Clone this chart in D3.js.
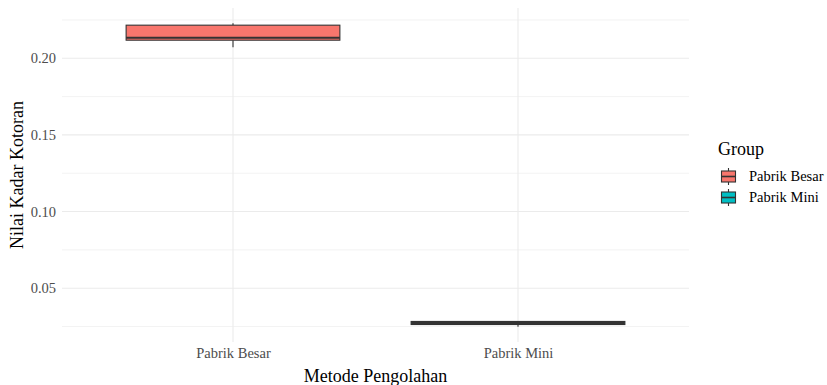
<!DOCTYPE html>
<html>
<head>
<meta charset="utf-8">
<script src="https://cdn.jsdelivr.net/npm/d3@7"></script>
<style>
  body { margin: 0; background: #fff; }
  svg text { font-family: "Liberation Serif", "DejaVu Serif", serif; }
</style>
</head>
<body>
<svg id="chart" width="827" height="385"></svg>
<script>
// Box summary per processing method
const categories = ["Pabrik Besar", "Pabrik Mini"];
const whiskerLow  = [0.2072, 0.0248];
const quartile1   = [0.2118, 0.0263];
const medians     = [0.2134, 0.0272];
const quartile3   = [0.2216, 0.0283];
const whiskerHigh = [0.2229, 0.0284];
const colors = ["#F8766D", "#00BFC4"];
const yTicks = [0.05, 0.10, 0.15, 0.20];
const yMinor = [0.025, 0.075, 0.125, 0.175, 0.225];

const FONT = "'Liberation Serif', 'DejaVu Serif', serif";
const svg = d3.select("#chart");
const margin = { left: 62, right: 138, top: 8, bottom: 43 };
const W = 827, H = 385;

// ggplot-style discrete expansion: 0.6 units on each side
const step = (W - margin.right - margin.left) / (categories.length - 1 + 1.2);
const x = d3.scalePoint().domain(categories)
  .range([margin.left + 0.6 * step, W - margin.right - 0.6 * step]);

const lo = d3.min(whiskerLow), hi = d3.max(whiskerHigh);
const pad = (hi - lo) * 0.05;
const y = d3.scaleLinear().domain([lo - pad, hi + pad]).range([H - margin.bottom, margin.top]);

const grid = svg.append("g");
yMinor.forEach(v => grid.append("line")
  .attr("x1", margin.left).attr("x2", W - margin.right)
  .attr("y1", y(v)).attr("y2", y(v))
  .attr("stroke", "#ebebeb").attr("stroke-width", 0.6));
yTicks.forEach(v => grid.append("line")
  .attr("x1", margin.left).attr("x2", W - margin.right)
  .attr("y1", y(v)).attr("y2", y(v))
  .attr("stroke", "#ebebeb").attr("stroke-width", 1.1));
categories.forEach(c => grid.append("line")
  .attr("x1", x(c)).attr("x2", x(c))
  .attr("y1", margin.top).attr("y2", H - margin.bottom)
  .attr("stroke", "#ebebeb").attr("stroke-width", 1.1));

// y axis tick labels
const yAxis = svg.append("g").attr("transform", `translate(${margin.left},0)`)
  .call(d3.axisLeft(y).tickValues(yTicks).tickFormat(d3.format(".2f")).tickSize(0).tickPadding(6));
yAxis.attr("font-family", FONT);
yAxis.select(".domain").remove();
yAxis.selectAll("text").attr("font-size", 14.5).attr("fill", "#4d4d4d");

// x axis tick labels
const xAxis = svg.append("g").attr("transform", `translate(0,${H - margin.bottom})`)
  .call(d3.axisBottom(x).tickSize(0).tickPadding(6));
xAxis.attr("font-family", FONT);
xAxis.select(".domain").remove();
xAxis.selectAll("text").attr("font-size", 14.5).attr("fill", "#4d4d4d");

// boxes
const boxW = step * 0.75;
categories.forEach((c, i) => {
  const g = svg.append("g");
  const cx = x(c);
  g.append("line").attr("x1", cx).attr("x2", cx)
    .attr("y1", y(whiskerHigh[i])).attr("y2", y(quartile3[i]))
    .attr("stroke", "#333").attr("stroke-width", 1.1);
  g.append("line").attr("x1", cx).attr("x2", cx)
    .attr("y1", y(quartile1[i])).attr("y2", y(whiskerLow[i]))
    .attr("stroke", "#333").attr("stroke-width", 1.1);
  g.append("rect").attr("x", cx - boxW / 2).attr("width", boxW)
    .attr("y", y(quartile3[i])).attr("height", y(quartile1[i]) - y(quartile3[i]))
    .attr("fill", colors[i]).attr("stroke", "#333").attr("stroke-width", 1.1);
  g.append("line").attr("x1", cx - boxW / 2).attr("x2", cx + boxW / 2)
    .attr("y1", y(medians[i])).attr("y2", y(medians[i]))
    .attr("stroke", "#333").attr("stroke-width", 2.2);
});

// axis titles
svg.append("text").attr("x", (margin.left + W - margin.right) / 2).attr("y", H - 3)
  .attr("text-anchor", "middle").attr("font-size", 18).attr("fill", "#000")
  .attr("font-family", FONT)
  .text("Metode Pengolahan");
svg.append("text")
  .attr("transform", `translate(23,${(margin.top + H - margin.bottom) / 2}) rotate(-90)`)
  .attr("text-anchor", "middle").attr("font-size", 18).attr("fill", "#000")
  .attr("font-family", FONT)
  .text("Nilai Kadar Kotoran");

// legend
const lg = svg.append("g").attr("transform", "translate(718,0)").attr("font-family", FONT);
lg.append("text").attr("x", 0).attr("y", 155).attr("font-size", 18).attr("fill", "#000").text("Group");
categories.forEach((c, i) => {
  const ky = 168 + i * 21;
  const k = lg.append("g").attr("transform", `translate(2,${ky})`);
  k.append("line").attr("x1", 8.5).attr("x2", 8.5).attr("y1", 0).attr("y2", 17)
    .attr("stroke", "#333").attr("stroke-width", 1.1);
  k.append("rect").attr("x", 1.5).attr("y", 3).attr("width", 14).attr("height", 11)
    .attr("fill", colors[i]).attr("stroke", "#333").attr("stroke-width", 1.1);
  k.append("line").attr("x1", 1.5).attr("x2", 15.5).attr("y1", 8.5).attr("y2", 8.5)
    .attr("stroke", "#333").attr("stroke-width", 1.6);
  lg.append("text").attr("x", 31).attr("y", ky + 13).attr("font-size", 14.5).attr("fill", "#000").text(c);
});
</script>
</body>
</html>
